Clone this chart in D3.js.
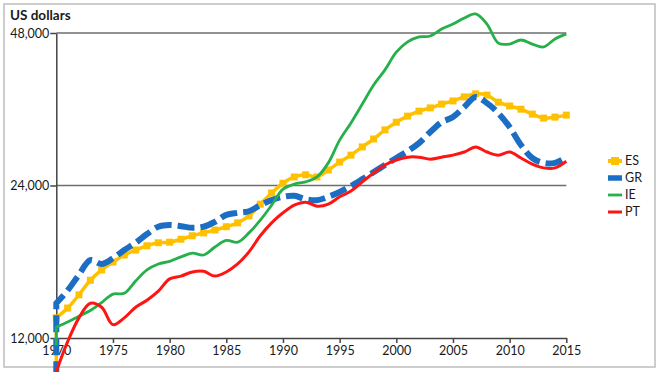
<!DOCTYPE html>
<html><head><meta charset="utf-8">
<script src="https://cdn.jsdelivr.net/npm/d3@7/dist/d3.min.js"></script>
<style>
body{margin:0;background:#fff}
svg{display:block}
text{font-family:Lato,"Open Sans",sans-serif;fill:#1a1a1a}
</style>
</head><body>
<svg id="chart" width="660" height="372"></svg>
<script>
const years = [1970,1971,1972,1973,1974,1975,1976,1977,1978,1979,
  1980,1981,1982,1983,1984,1985,1986,1987,1988,1989,
  1990,1991,1992,1993,1994,1995,1996,1997,1998,1999,
  2000,2001,2002,2003,2004,2005,2006,2007,2008,2009,
  2010,2011,2012,2013,2014,2015];
const seriesNames = ["ES","GR","IE","PT"];
const ES = [13150,13750,14600,15600,16350,16950,17500,17900,18250,18500,
  18550,18800,19100,19350,19600,19900,20250,20900,22050,23200,
  24250,24950,25200,24950,25750,26700,27550,28600,29650,30900,
  32000,32900,33650,34150,34750,35250,35900,36400,36200,35050,
  34450,33950,33200,32600,32750,33050];
const GR = [14050,14900,16000,17100,16800,17250,17900,18500,19250,19900,
  20050,19950,19800,19900,20350,21000,21200,21350,21950,22450,
  22800,22900,22550,22450,22800,23300,23950,24700,25500,26350,
  27200,28050,29100,30600,32000,32750,34300,35900,34900,33350,
  31300,28850,27200,26600,26600,27300];
const IE = [12600,12900,13250,13600,14100,14650,14700,15550,16350,16800,
  17000,17350,17650,17500,18150,18700,18550,19350,20500,21950,
  23600,24150,24400,24950,26600,29500,31900,34750,37900,40600,
  44000,46100,47150,47350,48900,50000,51400,52350,50000,45850,
  45650,46500,45650,45050,46700,47800];
const PT = [10300,11800,13150,14050,13800,12750,13150,13800,14250,14850,
  15700,15900,16200,16250,15900,16200,16800,17750,19100,20250,
  21200,21950,22250,21850,22050,22800,23400,24400,25400,26350,
  26950,27300,27300,27050,27300,27550,27950,28600,27950,27550,
  27950,27200,26450,26000,26000,26800];
// value where each line enters at 1970 (vertical lead-in from below)
const leadValues = [9000, 9000, 11600, null];
const yTicks = [12000, 24000, 48000];
const gridValues = [24000, 48000];
const xTicks = [1970,1975,1980,1985,1990,1995,2000,2005,2010,2015];

const seriesData = [ES, GR, IE, PT];
const colors = ["#FFC000","#1C6EC4","#26B04A","#FF1414"];

const svg = d3.select("#chart");
// outer frame
svg.append("rect").attr("x",4).attr("y",4).attr("width",651).attr("height",363)
  .attr("fill","none").attr("stroke","#bdbdbd").attr("stroke-width",1.5);

const x = d3.scaleLinear().domain([1970,2015]).range([56.3,566.3]);
const y = d3.scaleLog().base(2).domain([12000,48000]).range([338,33]);

// gridlines
svg.append("g").selectAll("line").data(gridValues).join("line")
  .attr("x1",x(1970)).attr("x2",x(2015))
  .attr("y1",d=>y(d)).attr("y2",d=>y(d))
  .attr("stroke","#6e6e6e").attr("stroke-width",1.5);

// axes
const xAxis = svg.append("g").attr("transform",`translate(0,${y(12000)})`)
  .call(d3.axisBottom(x).tickValues(xTicks).tickFormat(d3.format("d")).tickSize(5).tickSizeOuter(0).tickPadding(3));
const yAxis = svg.append("g").attr("transform",`translate(${x(1970)},0)`)
  .call(d3.axisLeft(y).tickValues(yTicks).tickFormat(d3.format(",")).tickSize(6).tickSizeOuter(0).tickPadding(1));
[xAxis,yAxis].forEach(g=>{
  g.selectAll("path.domain").attr("stroke","#444").attr("stroke-width",1.5);
  g.selectAll(".tick line").attr("stroke","#444").attr("stroke-width",1.5);
  g.selectAll("text").attr("font-size",12.5).attr("fill","#1a1a1a").style("font-family","Lato, 'Open Sans', sans-serif");
});

svg.append("text").attr("x",10).attr("y",20).attr("font-size",13.5).attr("font-weight","bold").text("US dollars");

const line = d3.line().x(d=>x(d[0])).y(d=>y(d[1])).curve(d3.curveCatmullRom.alpha(0.5));

function pathFor(i){
  const pts = years.map((yr,k)=>[yr, seriesData[i][k]]);
  let d = line(pts);
  if (leadValues[i] != null) d = `M${x(years[0])},${y(leadValues[i])}L` + d.slice(1);
  return d;
}

// ES
svg.append("path").attr("d",pathFor(0)).attr("fill","none").attr("stroke",colors[0]).attr("stroke-width",3.5);
svg.append("g").selectAll("rect").data(years.map((yr,k)=>[yr,ES[k]])).join("rect")
  .attr("x",d=>x(d[0])-3.5).attr("y",d=>y(d[1])-3.5).attr("width",7).attr("height",7).attr("fill",colors[0]);
// GR
svg.append("path").attr("d",pathFor(1)).attr("fill","none").attr("stroke",colors[1]).attr("stroke-width",6)
  .attr("stroke-dasharray","17,6");
// IE
svg.append("path").attr("d",pathFor(2)).attr("fill","none").attr("stroke",colors[2]).attr("stroke-width",2.8);
// PT
svg.append("path").attr("d",pathFor(3)).attr("fill","none").attr("stroke",colors[3]).attr("stroke-width",3);

// legend
const legendY = [161,178,195,212];
const lg = svg.append("g");
seriesNames.forEach((name,i)=>{
  const gy = legendY[i];
  if (i===0){
    lg.append("line").attr("x1",608).attr("x2",622).attr("y1",gy).attr("y2",gy).attr("stroke",colors[0]).attr("stroke-width",4);
    lg.append("rect").attr("x",611).attr("y",gy-4).attr("width",8).attr("height",8).attr("fill",colors[0]);
  } else if (i===1){
    lg.append("line").attr("x1",608).attr("x2",622).attr("y1",gy).attr("y2",gy).attr("stroke",colors[1]).attr("stroke-width",5.5);
  } else {
    lg.append("line").attr("x1",608).attr("x2",622).attr("y1",gy).attr("y2",gy).attr("stroke",colors[i]).attr("stroke-width",i===2?2.8:3);
  }
  lg.append("text").attr("x",625).attr("y",gy).attr("dy","0.35em").attr("font-size",12.5).text(name);
});
</script>
</body></html>
